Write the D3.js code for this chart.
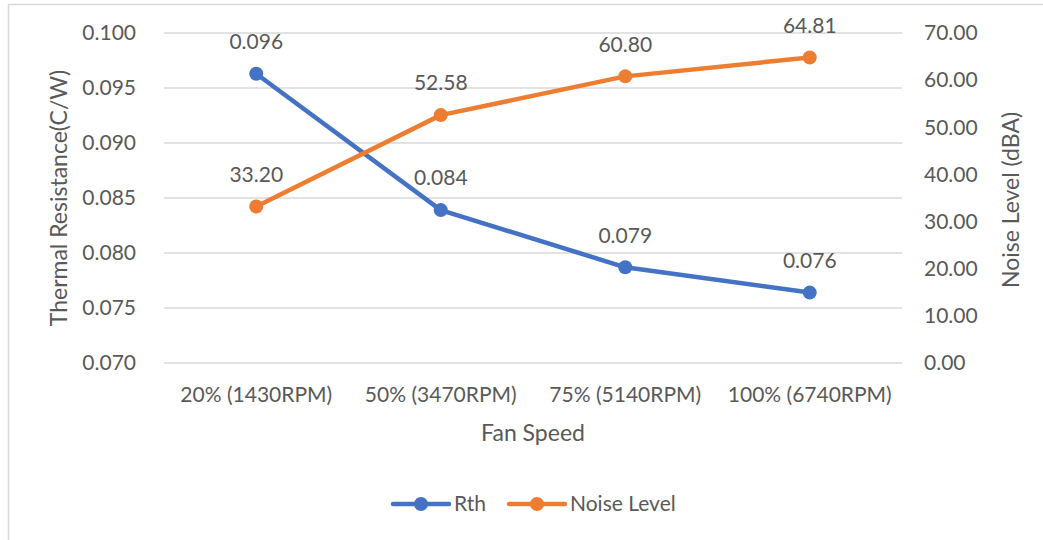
<!DOCTYPE html>
<html>
<head>
<meta charset="utf-8">
<script src="https://cdn.jsdelivr.net/npm/d3@7"></script>
<style>
body { margin: 0; background: #fff; }
svg text { font-family: Lato, "Open Sans", sans-serif; fill: #595959; }
</style>
</head>
<body>
<div id="chart"></div>
<script>
var categories = ['20% (1430RPM)', '50% (3470RPM)', '75% (5140RPM)', '100% (6740RPM)'];
var rth = [0.0963, 0.0839, 0.0787, 0.0764];
var rthLabels = ['0.096', '0.084', '0.079', '0.076'];
var noise = [33.20, 52.58, 60.80, 64.81];
var leftTicks = [0.070, 0.075, 0.080, 0.085, 0.090, 0.095, 0.100];
var rightTicks = [0, 10, 20, 30, 40, 50, 60, 70];

var width = 1043;
var height = 540;
var plot = {left: 164, right: 902, top: 33, bottom: 363};

var blue = '#4472c4';
var orange = '#ed7d31';

// svg + frame (only top/left edges are visible in the picture)
var svg = d3.select('#chart')
	.append('svg')
	.attr('width', width)
	.attr('height', height);

svg.append('rect')
	.attr('x', 8.5)
	.attr('y', 4.5)
	.attr('width', width + 20)
	.attr('height', height + 20)
	.attr('fill', 'none')
	.attr('stroke', '#d9d9d9')
	.attr('stroke-width', 1.5);

// scales
var x_scale = d3.scaleBand()
	.domain(categories)
	.range([plot.left, plot.right]);
var y_left = d3.scaleLinear()
	.domain([0.070, 0.100])
	.range([plot.bottom, plot.top]);
var y_right = d3.scaleLinear()
	.domain([0, 70])
	.range([plot.bottom, plot.top]);

function cx(d, i) { return x_scale(categories[i]) + x_scale.bandwidth() / 2; }

// gridlines
svg.append('g')
	.selectAll('line')
	.data(leftTicks)
	.enter()
	.append('line')
	.attr('x1', plot.left)
	.attr('x2', plot.right)
	.attr('y1', function(d){ return y_left(d); })
	.attr('y2', function(d){ return y_left(d); })
	.attr('stroke', '#d9d9d9')
	.attr('stroke-width', 1.3);

// axes
var left_axis = d3.axisLeft(y_left).tickValues(leftTicks).tickFormat(d3.format('.3f')).tickSize(0).tickPadding(28);
var gl = svg.append('g')
	.attr('transform', 'translate(' + plot.left + ',0)')
	.call(left_axis);

var right_axis = d3.axisRight(y_right).tickValues(rightTicks).tickFormat(d3.format('.2f')).tickSize(0).tickPadding(22);
var gr = svg.append('g')
	.attr('transform', 'translate(' + plot.right + ',0)')
	.call(right_axis);

var bottom_axis = d3.axisBottom(x_scale).tickSize(0).tickPadding(24);
var gb = svg.append('g')
	.attr('transform', 'translate(0,' + plot.bottom + ')')
	.call(bottom_axis);

[gl, gr, gb].forEach(function(g){
	g.select('.domain').remove();
	g.selectAll('text')
		.style('font-size', '21px')
		.attr('fill', '#595959');
});

// axis titles
svg.append('text')
	.attr('transform', 'translate(59,' + (plot.top + plot.bottom) / 2 + ') rotate(-90)')
	.attr('text-anchor', 'middle')
	.attr('dy', '0.35em')
	.style('font-size', '23px')
	.text('Thermal Resistance(C/W)');

svg.append('text')
	.attr('transform', 'translate(1011,200) rotate(-90)')
	.attr('text-anchor', 'middle')
	.attr('dy', '0.35em')
	.style('font-size', '23px')
	.text('Noise Level (dBA)');

svg.append('text')
	.attr('x', (plot.left + plot.right) / 2)
	.attr('y', 441)
	.attr('text-anchor', 'middle')
	.style('font-size', '23px')
	.text('Fan Speed');

// lines
var rthLine = d3.line()
	.x(cx)
	.y(function(d){ return y_left(d); });
var noiseLine = d3.line()
	.x(cx)
	.y(function(d){ return y_right(d); });

svg.append('path')
	.datum(rth)
	.attr('d', rthLine)
	.attr('fill', 'none')
	.attr('stroke', blue)
	.attr('stroke-width', 4.5)
	.attr('stroke-linejoin', 'round');

svg.append('path')
	.datum(noise)
	.attr('d', noiseLine)
	.attr('fill', 'none')
	.attr('stroke', orange)
	.attr('stroke-width', 4.5)
	.attr('stroke-linejoin', 'round');

// markers
svg.append('g').selectAll('circle')
	.data(rth)
	.enter()
	.append('circle')
	.attr('cx', cx)
	.attr('cy', function(d){ return y_left(d); })
	.attr('r', 7)
	.attr('fill', blue);

svg.append('g').selectAll('circle')
	.data(noise)
	.enter()
	.append('circle')
	.attr('cx', cx)
	.attr('cy', function(d){ return y_right(d); })
	.attr('r', 7)
	.attr('fill', orange);

// data labels
svg.append('g').selectAll('text')
	.data(rth)
	.enter()
	.append('text')
	.attr('x', cx)
	.attr('y', function(d){ return y_left(d) - 32; })
	.attr('dy', '0.35em')
	.attr('text-anchor', 'middle')
	.style('font-size', '21px')
	.text(function(d, i){ return rthLabels[i]; });

svg.append('g').selectAll('text')
	.data(noise)
	.enter()
	.append('text')
	.attr('x', cx)
	.attr('y', function(d){ return y_right(d) - 32; })
	.attr('dy', '0.35em')
	.attr('text-anchor', 'middle')
	.style('font-size', '21px')
	.text(function(d){ return d3.format('.2f')(d); });

// legend
var legend = [
	{name: 'Rth', color: blue, x: 393},
	{name: 'Noise Level', color: orange, x: 509}
];
var lg = svg.append('g').selectAll('g')
	.data(legend)
	.enter()
	.append('g')
	.attr('transform', function(d){ return 'translate(' + d.x + ',504)'; });
lg.append('line')
	.attr('x1', 0)
	.attr('x2', 56)
	.attr('stroke', function(d){ return d.color; })
	.attr('stroke-width', 4.5)
	.attr('stroke-linecap', 'round');
lg.append('circle')
	.attr('cx', 28)
	.attr('r', 7)
	.attr('fill', function(d){ return d.color; });
lg.append('text')
	.attr('x', 61)
	.attr('dy', '0.35em')
	.style('font-size', '21px')
	.text(function(d){ return d.name; });
</script>
</body>
</html>
